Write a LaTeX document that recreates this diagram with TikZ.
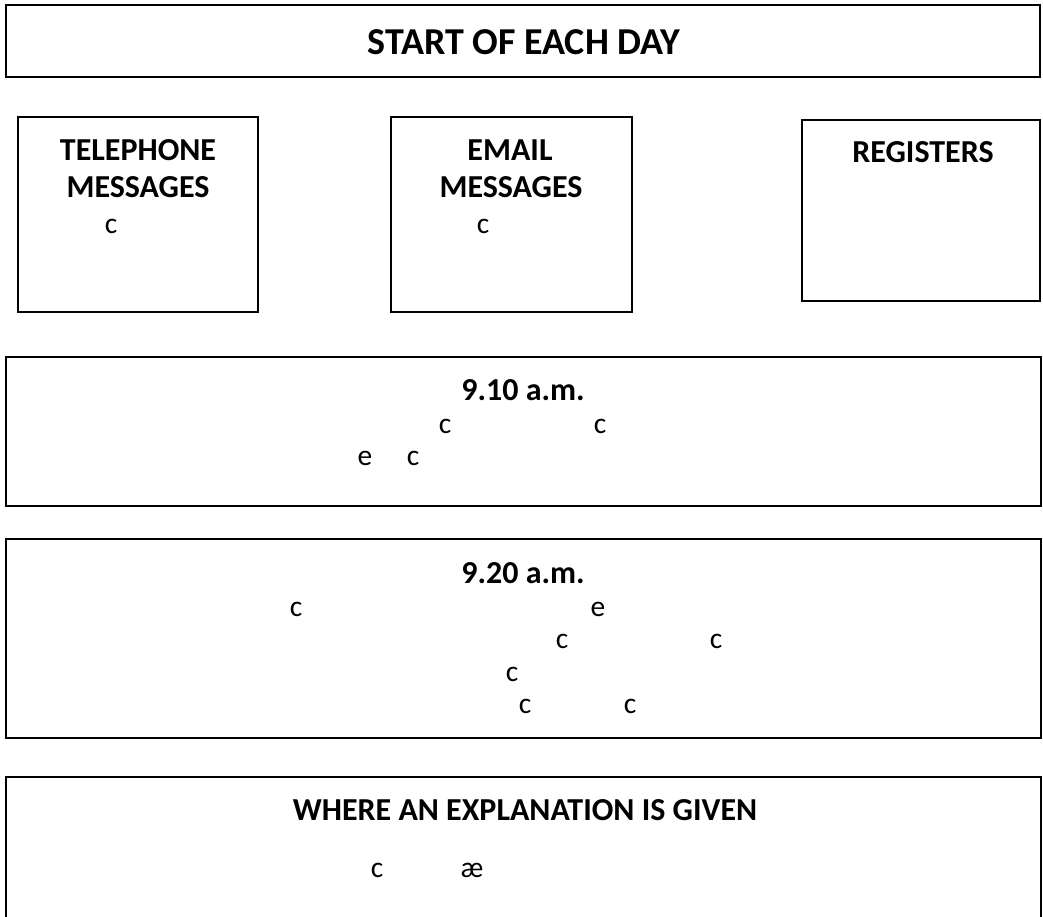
\documentclass[tikz,border=0pt]{standalone}
\usepackage{fontspec}
\setmainfont{Carlito}
\tikzset{
  box/.style={line width=1.3pt, draw=black},
  head/.style={font=\fontsize{32}{36}\selectfont\bfseries, inner sep=0pt},
  bighead/.style={head, font=\fontsize{38}{42}\selectfont\bfseries},
  glyph/.style={font=\fontsize{29.5}{32}\selectfont, inner sep=0pt}
}
\begin{document}
\begin{tikzpicture}[x=1pt, y=-1pt]
	  \useasboundingbox (0,0) rectangle (1043,916);
	  \clip (0,0) rectangle (1043,916);

	  % boxes
	  \draw [box] (6,5) rectangle (1040,77);
	  \draw [box] (18,117) rectangle (258,312);
	  \draw [box] (391,117) rectangle (632,312);
	  \draw [box] (802,120) rectangle (1040,301);
	  \draw [box] (6,357) rectangle (1041,506);
	  \draw [box] (6,539) rectangle (1041,738);
	  \draw [box] (6,777) rectangle (1041,930);

	  % headings
	  \node [bighead] (start) at (524,42) {START OF EACH DAY};
	  \node [head] (tel1) at (138,150) {TELEPHONE};
	  \node [head] (tel2) at (138,187) {MESSAGES};
	  \node [head] (mail1) at (510,150) {EMAIL};
	  \node [head] (mail2) at (511,187) {MESSAGES};
	  \node [head] (reg) at (923,152) {REGISTERS};
	  \node [head] (tenpast) at (523,390) {9.10 a.m.};
	  \node [head] (twentypast) at (523,573) {9.20 a.m.};
	  \node [head] (expl) at (525,810) {WHERE AN EXPLANATION IS GIVEN};

	  % stray letters
	  \node [glyph] (telc) at (111,226) {c};
	  \node [glyph] (mailc) at (483,226) {c};

	  \node [glyph] (ta) at (445,426) {c};
	  \node [glyph] (tb) at (600,426) {c};
	  \node [glyph] (tc) at (365,458) {e};
	  \node [glyph] (td) at (413,458) {c};

	  \node [glyph] (wa) at (296,609) {c};
	  \node [glyph] (wb) at (598,609) {e};
	  \node [glyph] (wc) at (562,641) {c};
	  \node [glyph] (wd) at (716,641) {c};
	  \node [glyph] (we) at (512,674) {c};
	  \node [glyph] (wf) at (525,706) {c};
	  \node [glyph] (wg) at (630,706) {c};

	  \node [glyph] (ea) at (377,870) {c};
	  \node [glyph] (eb) at (472,870) {æ};
	\end{tikzpicture}
\end{document}
